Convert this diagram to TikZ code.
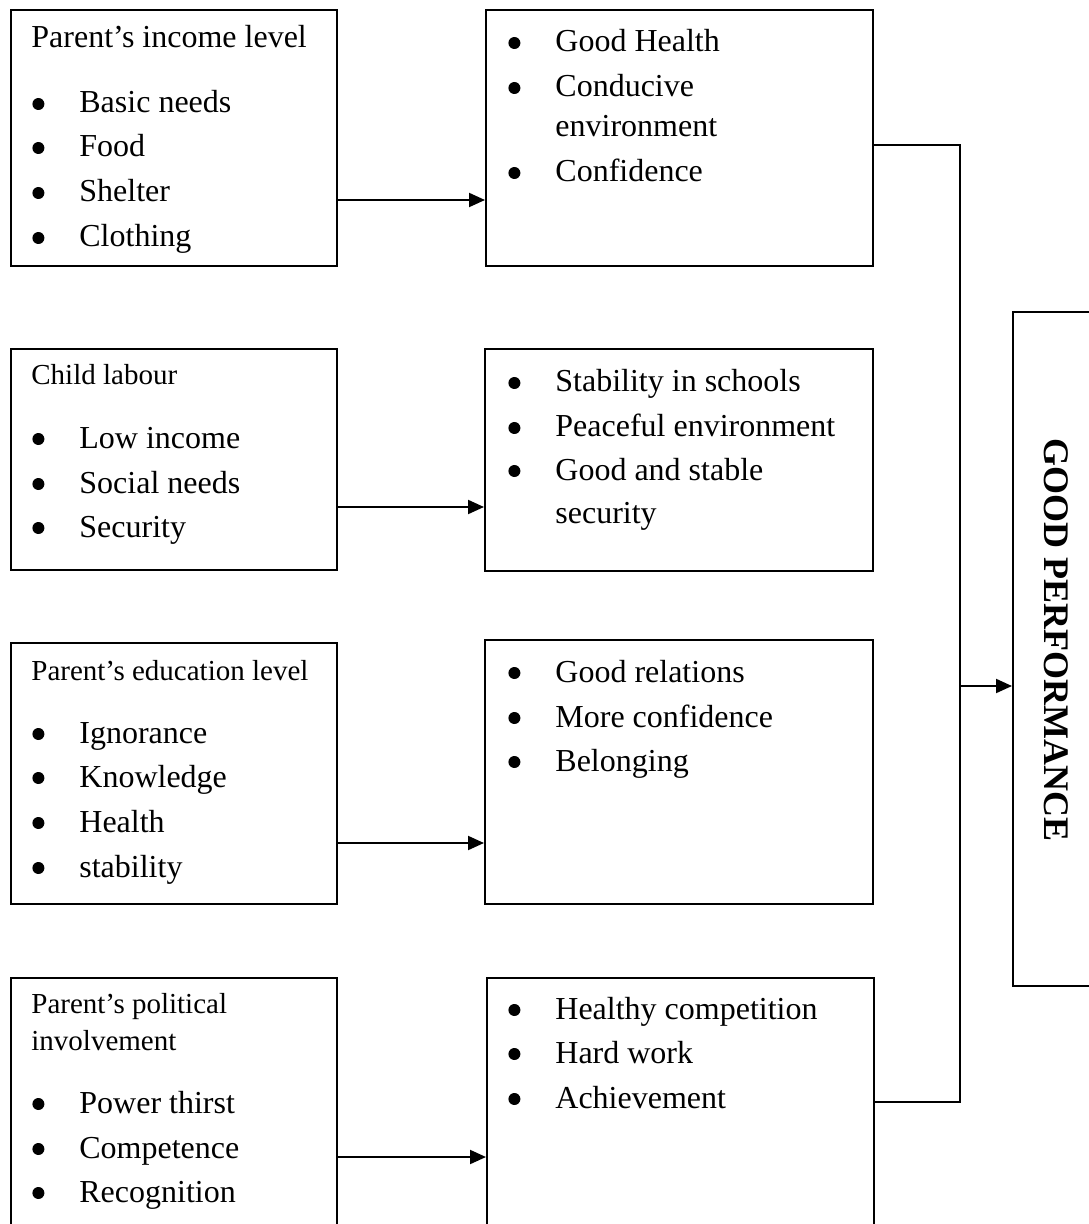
\documentclass[tikz,border=0pt]{standalone}
\usepackage{fontspec}
\setmainfont{Liberation Serif}
\usetikzlibrary{arrows.meta}
\newcommand{\bdot}{\tikz[baseline=0pt,x=1pt,y=1pt]\fill (3pt,4.5pt) circle (3pt);}
\newcommand{\bitem}[1]{\makebox[23.5pt][l]{\bdot}#1}
\begin{document}
\begin{tikzpicture}[x=0.5pt,y=-0.5pt,
  box/.style={draw, line width=1pt, anchor=north west, inner sep=0pt},
  txt/.style={anchor=base west, inner sep=0pt, font=\fontsize{16}{19}\selectfont},
  hdr/.style={txt, font=\fontsize{14.5}{17}\selectfont},
  conn/.style={draw, line width=1pt},
  arr/.style={conn, -{Triangle[length=8pt,width=7pt]}}]
\useasboundingbox (0,0) rectangle (1088,1224);

% boxes
\node[box, minimum width=163pt, minimum height=128pt] (L1) at (10,9) {};
\node[box, minimum width=193.5pt, minimum height=128pt] (R1) at (485,9) {};
\node[box, minimum width=163pt, minimum height=110.5pt] (L2) at (10,348) {};
\node[box, minimum width=194pt, minimum height=111pt] (R2) at (484,348) {};
\node[box, minimum width=163pt, minimum height=130.5pt] (L3) at (10,642) {};
\node[box, minimum width=194pt, minimum height=132pt] (R3) at (484,639) {};
\node[box, minimum width=163pt, minimum height=150pt] (L4) at (10,977) {};
\node[box, minimum width=193.5pt, minimum height=150pt] (R4) at (486,977) {};
\node[box, minimum width=50pt, minimum height=337pt] (GP) at (1012,311) {};

% texts of box L1
\node[txt] (l1h) at (31,48) {Parent’s income level};
\node[txt] (l1a) at (32,113) {\bitem{Basic needs}};
\node[txt] (l1b) at (32,157) {\bitem{Food}};
\node[txt] (l1c) at (32,202) {\bitem{Shelter}};
\node[txt] (l1d) at (32,247) {\bitem{Clothing}};
% R1
\node[txt] (r1a) at (508,52) {\bitem{Good Health}};
\node[txt] (r1b) at (508,97) {\bitem{Conducive}};
\node[txt] (r1c) at (555,137) {environment};
\node[txt] (r1d) at (508,182) {\bitem{Confidence}};
% L2
\node[hdr] (l2h) at (31,385) {Child labour};
\node[txt] (l2a) at (32,448) {\bitem{Low income}};
\node[txt] (l2b) at (32,493) {\bitem{Social needs}};
\node[txt] (l2c) at (32,537) {\bitem{Security}};
% R2
\node[txt] (r2a) at (508,392) {\bitem{Stability in schools}};
\node[txt] (r2b) at (508,437) {\bitem{Peaceful environment}};
\node[txt] (r2c) at (508,480) {\bitem{Good and stable}};
\node[txt] (r2d) at (555,523) {security};
% L3
\node[hdr] (l3h) at (31,680) {Parent’s education level};
\node[txt] (l3a) at (32,743) {\bitem{Ignorance}};
\node[txt] (l3b) at (32,787) {\bitem{Knowledge}};
\node[txt] (l3c) at (32,832) {\bitem{Health}};
\node[txt] (l3d) at (32,877) {\bitem{stability}};
% R3
\node[txt] (r3a) at (508,682) {\bitem{Good relations}};
\node[txt] (r3b) at (508,727) {\bitem{More confidence}};
\node[txt] (r3c) at (508,771) {\bitem{Belonging}};
% L4
\node[hdr] (l4h) at (31,1013) {Parent’s political};
\node[hdr] (l4i) at (31,1050) {involvement};
\node[txt] (l4a) at (32,1113) {\bitem{Power thirst}};
\node[txt] (l4b) at (32,1158) {\bitem{Competence}};
\node[txt] (l4c) at (32,1202) {\bitem{Recognition}};
% R4
\node[txt] (r4a) at (508,1019) {\bitem{Healthy competition}};
\node[txt] (r4b) at (508,1063) {\bitem{Hard work}};
\node[txt] (r4c) at (508,1108) {\bitem{Achievement}};
% GP
\node[inner sep=0pt, rotate=-90, font=\fontsize{18}{21}\selectfont\bfseries] (gpt) at (1056,640) {GOOD PERFORMANCE};

% connector levels
\coordinate (y1) at (0,200);
\coordinate (y2) at (0,507);
\coordinate (y3) at (0,843);
\coordinate (y4) at (0,1157);
\coordinate (ya) at (0,145);
\coordinate (yb) at (0,1102);
\coordinate (yg) at (0,686);
\coordinate (xv) at (960,0);

\draw[arr] (L1.east |- y1) -- (R1.west |- y1);
\draw[arr] (L2.east |- y2) -- (R2.west |- y2);
\draw[arr] (L3.east |- y3) -- (R3.west |- y3);
\draw[arr] (L4.east |- y4) -- (R4.west |- y4);

\draw[conn] (R1.east |- ya) -| (xv |- yb) -- (R4.east |- yb);
\draw[arr] (xv |- yg) -- (GP.west |- yg);
\end{tikzpicture}
\end{document}
